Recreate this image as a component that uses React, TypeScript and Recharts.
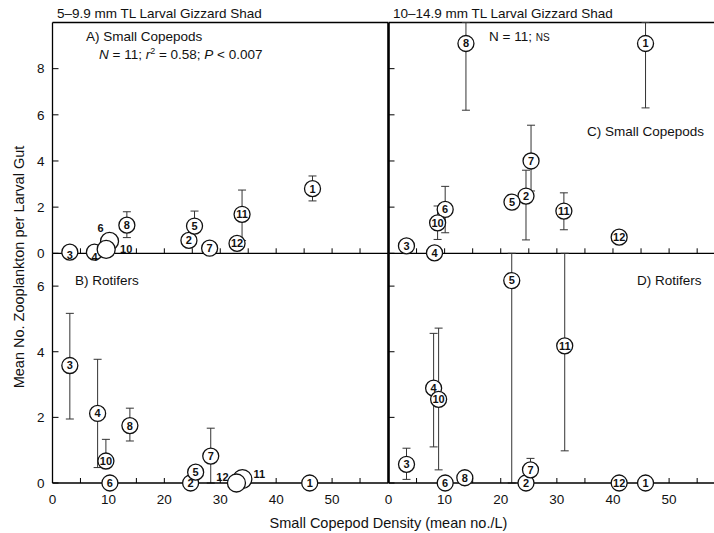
import React from 'react';
import { ScatterChart, Scatter, XAxis, YAxis, ErrorBar, ReferenceLine } from 'recharts';

const FONT = '"Liberation Sans", Arial, Helvetica, sans-serif';

// sampling stations (no station 9)
const stations = [1, 2, 3, 4, 5, 6, 7, 8, 10, 11, 12];

// A) small copepods in 5-9.9 mm larvae
const aDensity = [46.5, 24.4, 3.1, 7.5, 25.4, 10.2, 28.1, 13.3, 9.6, 33.9, 33.0];
const aMean = [2.8, 0.56, 0.05, 0.05, 1.18, 0.52, 0.22, 1.22, 0.17, 1.69, 0.43];
const aLow = [2.27, 0.56, 0.05, 0.05, 1.18, 0.52, 0.22, 0.68, 0.17, 0.55, 0.43];
const aHigh = [3.35, 0.56, 0.05, 0.05, 1.83, 0.52, 0.22, 1.8, 0.17, 2.74, 0.43];

// B) rotifers in 5-9.9 mm larvae
const bDensity = [46.0, 24.7, 3.1, 8.07, 25.6, 10.27, 28.3, 13.84, 9.55, 33.96, 32.9];
const bMean = [0, 0, 3.58, 2.12, 0.33, 0, 0.82, 1.75, 0.67, 0.12, 0];
const bLow = [0, 0, 1.95, 0.47, 0.33, 0, 0, 1.28, 0.67, 0.12, 0];
const bHigh = [0, 0, 5.17, 3.77, 0.33, 0, 1.67, 2.28, 1.33, 0.12, 0];

// C) small copepods in 10-14.9 mm larvae
const cDensity = [45.8, 24.5, 3.2, 8.2, 22.0, 10.1, 25.4, 13.8, 8.75, 31.25, 41.1];
const cMean = [9.09, 2.48, 0.32, 0.02, 2.22, 1.9, 4.0, 9.09, 1.32, 1.83, 0.7];
const cLow = [6.3, 0.58, 0.32, 0.02, 2.22, 0.89, 2.7, 6.2, 0.6, 1.02, 0.7];
const cHigh = [10, 3.6, 0.32, 0.02, 2.22, 2.9, 5.55, 10, 2.05, 2.62, 0.7];

// D) rotifers in 10-14.9 mm larvae
const dDensity = [45.8, 24.5, 3.21, 8.04, 21.96, 10.1, 25.3, 13.6, 8.93, 31.4, 41.1];
const dMean = [0, 0, 0.57, 2.89, 6.17, 0, 0.4, 0.16, 2.55, 4.18, 0];
const dLow = [0, 0, 0.11, 1.1, 0, 0, 0.4, 0.16, 0.4, 0.98, 0];
const dHigh = [0, 0, 1.06, 4.56, 7, 0, 0.75, 0.16, 4.72, 7, 0];

const xTicks = [0, 5, 10, 15, 20, 25, 30, 35, 40, 45, 50, 55];
const topYTicks = [0, 2, 4, 6, 8];
const bottomYTicks = [0, 2, 4, 6];

// labels that sit outside their circle
const labelSpots: Record<string, { dx?: number; dy?: number; r?: number }> = {
  'A-3': { dy: 3 },
  'A-4': { dy: 5 },
  'A-6': { dx: -9, dy: -13, r: 9 },
  'A-10': { dx: 20, dy: 0, r: 9 },
  'B-11': { dx: 17, dy: -5, r: 9.5 },
  'B-12': { dx: -14, dy: -6, r: 9 },
};

const makeRows = (xs: number[], ys: number[], lo: number[], hi: number[]) =>
  stations.map((id, i) => ({
    id,
    x: xs[i],
    y: ys[i],
    err: [ys[i] - lo[i], hi[i] - ys[i]],
  }));

const rowsA = makeRows(aDensity, aMean, aLow, aHigh);
const rowsB = makeRows(bDensity, bMean, bLow, bHigh);
const rowsC = makeRows(cDensity, cMean, cLow, cHigh);
const rowsD = makeRows(dDensity, dMean, dLow, dHigh);

function Marker(props: any) {
  const { cx, cy, payload, panel } = props;
  const spot = labelSpots[`${panel}-${payload.id}`] || {};
  const r = spot.r ?? 8;
  return (
    <g>
      <circle cx={cx} cy={cy} r={r} fill="#fff" stroke="#111" strokeWidth={1.3} />
      <text
        x={cx + (spot.dx ?? 0)}
        y={cy + (spot.dy ?? 0)}
        dy="0.36em"
        textAnchor="middle"
        fontSize={11}
        fontWeight="bold"
        fontFamily={FONT}
        fill="#111"
      >
        {payload.id}
      </text>
    </g>
  );
}

const tickStyle = { fontSize: 13.5, fill: '#111', fontFamily: FONT };

interface PanelProps {
  panel: string;
  rows: any[];
  left: number;
  top: number;
  width: number;
  height: number;
  marginTop: number;
  marginRight: number;
  yAxisWidth: number;
  xAxisHeight: number;
  xMax: number;
  yMax: number;
  yTicks: number[];
  showX: boolean;
  showY: boolean;
  divider: boolean;
  topBorder: boolean;
}

// axes, frame and error bars
function PanelBase(p: PanelProps) {
  return (
    <div style={{ position: 'absolute', left: p.left, top: p.top }}>
      <ScatterChart
        width={p.width}
        height={p.height}
        margin={{ top: p.marginTop, right: p.marginRight, bottom: 0, left: 0 }}
      >
        <XAxis
          type="number"
          dataKey="x"
          domain={[0, p.xMax]}
          ticks={xTicks}
          height={p.xAxisHeight}
          tickSize={-5}
          tickMargin={16}
          tick={tickStyle}
          tickFormatter={(v: number) => (p.showX && v % 10 === 0 && v <= 50 ? String(v) : '')}
          axisLine={{ stroke: '#000', strokeWidth: 1.3 }}
          tickLine={{ stroke: '#000' }}
        />
        <YAxis
          type="number"
          dataKey="y"
          domain={[0, p.yMax]}
          ticks={p.yTicks}
          width={p.yAxisWidth}
          tickSize={-6}
          tickMargin={14}
          tick={tickStyle}
          tickFormatter={(v: number) => (p.showY ? String(v) : '')}
          axisLine={{ stroke: '#000', strokeWidth: p.divider ? 2.6 : 1.3 }}
          tickLine={{ stroke: '#000' }}
        />
        {p.topBorder && <ReferenceLine y={p.yMax} stroke="#000" strokeWidth={1.3} />}
        <Scatter data={p.rows} isAnimationActive={false} shape={() => <g />}>
          <ErrorBar dataKey="err" direction="y" width={4} stroke="#333" strokeWidth={1} />
        </Scatter>
      </ScatterChart>
    </div>
  );
}

// circles on top, same plot area as the base chart
function PanelMarks(p: PanelProps) {
  return (
    <div style={{ position: 'absolute', left: p.left, top: p.top }}>
      <ScatterChart
        width={p.width}
        height={p.height}
        margin={{ top: p.marginTop, right: p.marginRight, bottom: p.xAxisHeight, left: p.yAxisWidth }}
      >
        <XAxis type="number" dataKey="x" domain={[0, p.xMax]} hide />
        <YAxis type="number" dataKey="y" domain={[0, p.yMax]} hide />
        <Scatter
          data={p.rows}
          isAnimationActive={false}
          shape={(s: any) => <Marker {...s} panel={p.panel} />}
        />
      </ScatterChart>
    </div>
  );
}

const panels: PanelProps[] = [
  { panel: 'A', rows: rowsA, left: 0, top: 0, width: 398, height: 275, marginTop: 22.5, marginRight: 10,
    yAxisWidth: 52.5, xAxisHeight: 21.7, xMax: 60, yMax: 10, yTicks: topYTicks,
    showX: false, showY: true, divider: false, topBorder: true },
  { panel: 'C', rows: rowsC, left: 340, top: 0, width: 374, height: 275, marginTop: 22.5, marginRight: 0,
    yAxisWidth: 48.5, xAxisHeight: 21.7, xMax: 58, yMax: 10, yTicks: topYTicks,
    showX: false, showY: false, divider: true, topBorder: true },
  { panel: 'B', rows: rowsB, left: 0, top: 240, width: 398, height: 270, marginTop: 13.3, marginRight: 10,
    yAxisWidth: 52.5, xAxisHeight: 27, xMax: 60, yMax: 7, yTicks: bottomYTicks,
    showX: true, showY: true, divider: false, topBorder: false },
  { panel: 'D', rows: rowsD, left: 340, top: 240, width: 374, height: 270, marginTop: 13.3, marginRight: 0,
    yAxisWidth: 48.5, xAxisHeight: 27, xMax: 58, yMax: 7, yTicks: bottomYTicks,
    showX: true, showY: false, divider: true, topBorder: false },
];

export default function App() {
  return (
    <div
      style={{
        position: 'absolute',
        left: 0,
        top: 0,
        width: 714,
        height: 533,
        background: '#fff',
        overflow: 'hidden',
      }}
    >
      {panels.map((p) => <PanelBase key={'base' + p.panel} {...p} />)}
      {panels.map((p) => <PanelMarks key={'marks' + p.panel} {...p} />)}

      <svg
        width={714}
        height={533}
        style={{ position: 'absolute', left: 0, top: 0, pointerEvents: 'none' }}
        fontFamily={FONT}
        fill="#111"
      >
        <text x={57} y={18} fontSize={13.5}>5–9.9 mm TL Larval Gizzard Shad</text>
        <text x={393} y={18} fontSize={13.5}>10–14.9 mm TL Larval Gizzard Shad</text>

        <text x={86} y={41} fontSize={13.5}>A) Small Copepods</text>
        <text x={99} y={59} fontSize={13.5}>
          <tspan fontStyle="italic">N</tspan>
          <tspan>{' = 11; '}</tspan>
          <tspan fontStyle="italic">r</tspan>
          <tspan dy={-5} fontSize={9}>2</tspan>
          <tspan dy={5}>{' = 0.58; '}</tspan>
          <tspan fontStyle="italic">P</tspan>
          <tspan>{' < 0.007'}</tspan>
        </text>

        <text x={489} y={41} fontSize={13.5}>
          <tspan>{'N = 11; '}</tspan>
          <tspan fontSize={10}>NS</tspan>
        </text>
        <text x={587} y={136} fontSize={13.5}>C) Small Copepods</text>
        <text x={75} y={285} fontSize={13.5}>B) Rotifers</text>
        <text x={637} y={285} fontSize={13.5}>D) Rotifers</text>

        <text x={24} y={267} fontSize={14.5} textAnchor="middle" transform="rotate(-90 24 267)">
          Mean No. Zooplankton per Larval Gut
        </text>
        <text x={388.5} y={528} fontSize={14.5} textAnchor="middle">
          Small Copepod Density (mean no./L)
        </text>
      </svg>
    </div>
  );
}
